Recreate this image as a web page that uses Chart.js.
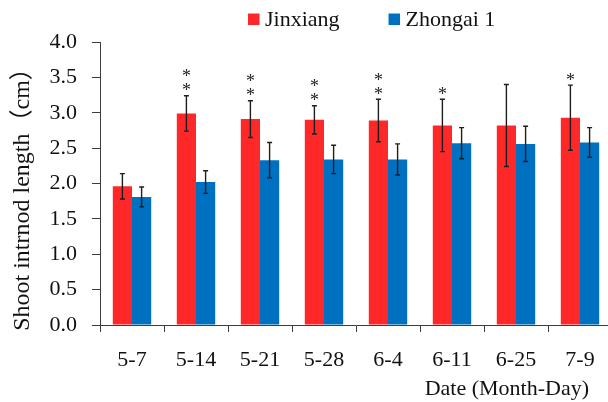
<!DOCTYPE html>
<html>
<head>
<meta charset="utf-8">
<script src="https://cdn.jsdelivr.net/npm/chart.js@4"></script>
<style>
  html, body { margin: 0; padding: 0; background: #fff; overflow: hidden; }
  #wrap { position: absolute; left: 0; top: 0; width: 616px; height: 402px; }
</style>
</head>
<body>
<div id="wrap"><canvas id="c" width="616" height="402"></canvas></div>
<script>
// Sampling dates (month-day)
const categories = ['5-7', '5-14', '5-21', '5-28', '6-4', '6-11', '6-25', '7-9'];
const seriesNames = ['Jinxiang', 'Zhongai 1'];

// Mean shoot internode length (cm) and error (±)
const jinxiang    = [1.96, 2.99, 2.91, 2.90, 2.89, 2.82, 2.82, 2.93];
const jinxiangErr = [0.18, 0.25, 0.26, 0.20, 0.30, 0.37, 0.58, 0.46];
const zhongai     = [1.81, 2.02, 2.33, 2.34, 2.34, 2.57, 2.56, 2.58];
const zhongaiErr  = [0.14, 0.16, 0.25, 0.20, 0.22, 0.22, 0.25, 0.21];

// Significance marks between the two cultivars
const significance = ['', '**', '**', '**', '**', '*', '', '*'];

const yTickLabels = ['0.0', '0.5', '1.0', '1.5', '2.0', '2.5', '3.0', '3.5', '4.0'];
const yTitle = 'Shoot intrnod length（cm）';
const xTitle = 'Date (Month-Day)';

const SERIF = "'Liberation Serif', 'Times New Roman', 'Noto Sans CJK SC', serif";
const AXIS = '#3c3c3c';
const TEXT = '#111';
const RED = '#FF2828';
const BLUE = '#0070C0';

const errorBars = {
  id: 'errorBars',
  afterDatasetsDraw(chart) {
    const ctx = chart.ctx, ys = chart.scales.y;
    ctx.save();
    ctx.strokeStyle = '#1e1e1e';
    ctx.lineWidth = 1.4;
    chart.data.datasets.forEach((ds, i) => {
      chart.getDatasetMeta(i).data.forEach((bar, j) => {
        const v = ds.data[j], e = ds.errors[j];
        const top = ys.getPixelForValue(v + e);
        const bot = ys.getPixelForValue(v - e);
        const x = bar.x;
        ctx.beginPath();
        ctx.moveTo(x, top); ctx.lineTo(x, bot);
        ctx.moveTo(x - 2.5, top); ctx.lineTo(x + 2.5, top);
        ctx.moveTo(x - 2.5, bot); ctx.lineTo(x + 2.5, bot);
        ctx.stroke();
      });
    });
    ctx.restore();
  }
};

const starMarks = {
  id: 'starMarks',
  afterDatasetsDraw(chart) {
    const ctx = chart.ctx, ys = chart.scales.y;
    const ds = chart.data.datasets[0];
    ctx.save();
    ctx.font = '18px ' + SERIF;
    ctx.fillStyle = '#222';
    ctx.textAlign = 'center';
    ctx.textBaseline = 'alphabetic';
    const m = ctx.measureText('*');
    const half = (m.actualBoundingBoxAscent - m.actualBoundingBoxDescent) / 2;
    chart.getDatasetMeta(0).data.forEach((bar, j) => {
      const marks = significance[j];
      if (!marks) return;
      const top = ys.getPixelForValue(ds.data[j] + ds.errors[j]);
      for (let k = 0; k < marks.length; k++) {
        const cy = top - 9 - k * 14;
        ctx.fillText('*', bar.x, cy + half);
      }
    });
    ctx.restore();
  }
};

const legendAndTitles = {
  id: 'legendAndTitles',
  afterDraw(chart) {
    const ctx = chart.ctx, area = chart.chartArea;
    ctx.save();
    ctx.font = '22px ' + SERIF;
    ctx.fillStyle = TEXT;
    ctx.textBaseline = 'middle';
    let x = 248;
    chart.data.datasets.forEach((ds) => {
      ctx.fillStyle = ds.backgroundColor;
      ctx.fillRect(x, 13.5, 11.5, 11.5);
      ctx.fillStyle = TEXT;
      ctx.textAlign = 'left';
      ctx.fillText(ds.label, x + 17, 20);
      x += 17 + ctx.measureText(ds.label).width + 49;
    });
    // x-axis title, right aligned under the last categories
    ctx.textAlign = 'right';
    ctx.textBaseline = 'alphabetic';
    ctx.fillText(xTitle, area.right - 23, 395);
    // y-axis title, rotated along the left edge
    ctx.font = '24px ' + SERIF;
    ctx.translate(23, (area.top + area.bottom) / 2 + 10);
    ctx.rotate(-Math.PI / 2);
    ctx.textAlign = 'center';
    ctx.textBaseline = 'middle';
    ctx.fillText(yTitle, 0, 0);
    ctx.restore();
  }
};

new Chart(document.getElementById('c'), {
  type: 'bar',
  data: {
    labels: categories,
    datasets: [
      { label: seriesNames[0], data: jinxiang, errors: jinxiangErr, backgroundColor: RED,
        categoryPercentage: 0.6, barPercentage: 1.0 },
      { label: seriesNames[1], data: zhongai, errors: zhongaiErr, backgroundColor: BLUE,
        categoryPercentage: 0.6, barPercentage: 1.0 }
    ]
  },
  options: {
    responsive: false,
    animation: false,
    devicePixelRatio: 1,
    layout: { padding: { top: 42, right: 4, bottom: 0, left: 0 } },
    plugins: { legend: { display: false }, tooltip: { enabled: false } },
    scales: {
      x: {
        afterFit(s) { s.height = 77; },
        grid: { display: true, offset: true, drawOnChartArea: false, drawTicks: true,
                tickLength: 7, color: AXIS, lineWidth: 1 },
        border: { display: true, color: AXIS, width: 1 },
        ticks: { color: TEXT, padding: 15, font: { family: SERIF, size: 22 }, maxRotation: 0 }
      },
      y: {
        min: 0, max: 4,
        afterFit(s) { s.width = 100; },
        grid: { display: true, drawOnChartArea: false, drawTicks: true,
                tickLength: 8, color: AXIS, lineWidth: 1 },
        border: { display: true, color: AXIS, width: 1 },
        ticks: { stepSize: 0.5, color: TEXT, padding: 15, font: { family: SERIF, size: 22 },
                 callback: (v, i) => yTickLabels[i] },
        title: { display: false }
      }
    }
  },
  plugins: [errorBars, starMarks, legendAndTitles]
});
</script>
</body>
</html>
